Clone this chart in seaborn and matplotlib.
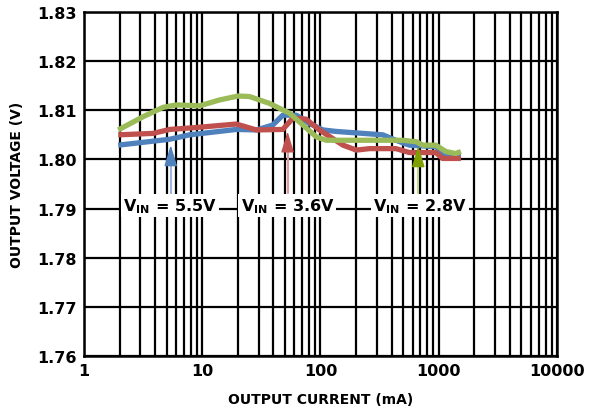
import numpy as np
import pandas as pd
import matplotlib
matplotlib.use("Agg")
import matplotlib.pyplot as plt
from matplotlib.ticker import FixedLocator, LogLocator, NullFormatter
import seaborn as sns

# values
blue_x = [1.95, 5.3, 7.8, 19.4, 28.7, 39.5, 48, 62.6, 81, 105, 135, 228, 337, 434, 565, 945,
          1150, 1388, 1540]
blue_y = [1.8029, 1.8041, 1.8050, 1.8061, 1.8060, 1.8070, 1.8090, 1.8090, 1.8073, 1.8060,
          1.8057, 1.8053, 1.8050, 1.8039, 1.8029, 1.8026, 1.8009, 1.8008, 1.8008]

red_x = [1.95, 3.85, 5.3, 8.95, 19.4, 28.7, 48, 58.5, 75.5, 98, 155, 201, 260, 434, 565,
         945, 1080, 1540]
red_y = [1.8050, 1.8053, 1.8061, 1.8065, 1.8072, 1.8060, 1.8061, 1.8084, 1.8082, 1.8060,
         1.8029, 1.8019, 1.8022, 1.8022, 1.8014, 1.8014, 1.8002, 1.8002]

green_x = [1.95, 3.17, 4.67, 6.06, 9.5, 14.0, 20.1, 25.1, 37.1, 54.8, 71, 92, 112, 495, 647,
           733, 945, 1150, 1388, 1540]
green_y = [1.8060, 1.8087, 1.8106, 1.8111, 1.8109, 1.8121, 1.8129, 1.8128, 1.8114, 1.8094,
           1.8070, 1.8046, 1.8039, 1.8039, 1.8036, 1.8029, 1.8029, 1.8016, 1.8012, 1.8016]

series = ["5.5V", "3.6V", "2.8V"]
x_ticks = [1, 10, 100, 1000, 10000]
y_ticks = [1.76, 1.77, 1.78, 1.79, 1.80, 1.81, 1.82, 1.83]

# arrow annotations: x, tip, head base, shaft bottom, label x
arrow_x = [5.42, 52.7, 671]
arrow_tip = [1.8029, 1.8057, 1.8027]
arrow_base = [1.7992, 1.8022, 1.7986]
arrow_bottom = [1.7927, 1.7931, 1.7927]
label_x = [5.36, 52.5, 697]
label_y = 1.7906

line_colors = ["#4f81bd", "#c0504d", "#9bbb59"]
head_colors = ["#4f81bd", "#c0504d", "#7f9f00"]
shaft_colors = ["#9db8e0", "#e59a9a", "#c5d88f"]

df = pd.concat([
    pd.DataFrame({"current": blue_x, "voltage": blue_y, "vin": series[0]}),
    pd.DataFrame({"current": red_x, "voltage": red_y, "vin": series[1]}),
    pd.DataFrame({"current": green_x, "voltage": green_y, "vin": series[2]}),
])

sns.set_style("white")
plt.rcParams["font.family"] = ["DejaVu Sans"]
plt.rcParams["font.weight"] = "bold"
plt.rcParams["mathtext.default"] = "bf"
plt.rcParams["text.color"] = "black"
plt.rcParams["axes.labelcolor"] = "black"
plt.rcParams["xtick.color"] = "black"
plt.rcParams["ytick.color"] = "black"

fig = plt.figure(figsize=(5.91, 4.14), dpi=100)
ax = fig.add_axes([0.142, 0.1377, 0.8005, 0.8309])

sns.lineplot(data=df, x="current", y="voltage", hue="vin", palette=line_colors,
             estimator=None, sort=False, lw=3.8, ax=ax, legend=False, zorder=3,
             solid_joinstyle="round", solid_capstyle="butt")

ax.set_xscale("log")
ax.set_xlim(1, 10000)
ax.set_ylim(1.76, 1.83)
ax.xaxis.set_major_locator(FixedLocator(x_ticks))
ax.xaxis.set_minor_locator(LogLocator(base=10, subs=np.arange(2, 10)))
ax.xaxis.set_minor_formatter(NullFormatter())
ax.set_xticks(x_ticks)
ax.set_xticklabels([str(t) for t in x_ticks])
ax.set_yticks(y_ticks)
ax.set_yticklabels([f"{t:.2f}" for t in y_ticks])
ax.tick_params(which="both", length=0, labelsize=11.5, pad=5, colors="black")
for lab in ax.get_xticklabels() + ax.get_yticklabels():
    lab.set_fontweight("bold")

ax.grid(which="major", axis="both", color="black", lw=1.6)
ax.grid(which="minor", axis="x", color="black", lw=1.6)
ax.set_axisbelow(True)
for sp in ax.spines.values():
    sp.set_color("black")
    sp.set_linewidth(1.8)

ax.set_xlabel("OUTPUT CURRENT (mA)", fontsize=10, fontweight="bold", labelpad=10)
ax.set_ylabel("OUTPUT VOLTAGE (V)", fontsize=10, fontweight="bold", labelpad=10)

for i in range(3):
    ax.plot([arrow_x[i], arrow_x[i]], [arrow_bottom[i], arrow_base[i]],
            color=shaft_colors[i], lw=1.5, zorder=4)
    ax.annotate("", xy=(arrow_x[i], arrow_tip[i]), xytext=(arrow_x[i], arrow_base[i]),
                arrowprops=dict(arrowstyle="-|>,head_width=0.4,head_length=1.3",
                                color=head_colors[i], lw=1, mutation_scale=10,
                                shrinkA=0, shrinkB=0),
                zorder=5)
    ax.text(label_x[i], label_y, "V$_{IN}$ = " + series[i], ha="center", va="center",
            fontsize=11.5, fontweight="bold", zorder=6,
            bbox=dict(facecolor="white", edgecolor="none", pad=1.5))

fig.savefig("out.png", dpi=100)
